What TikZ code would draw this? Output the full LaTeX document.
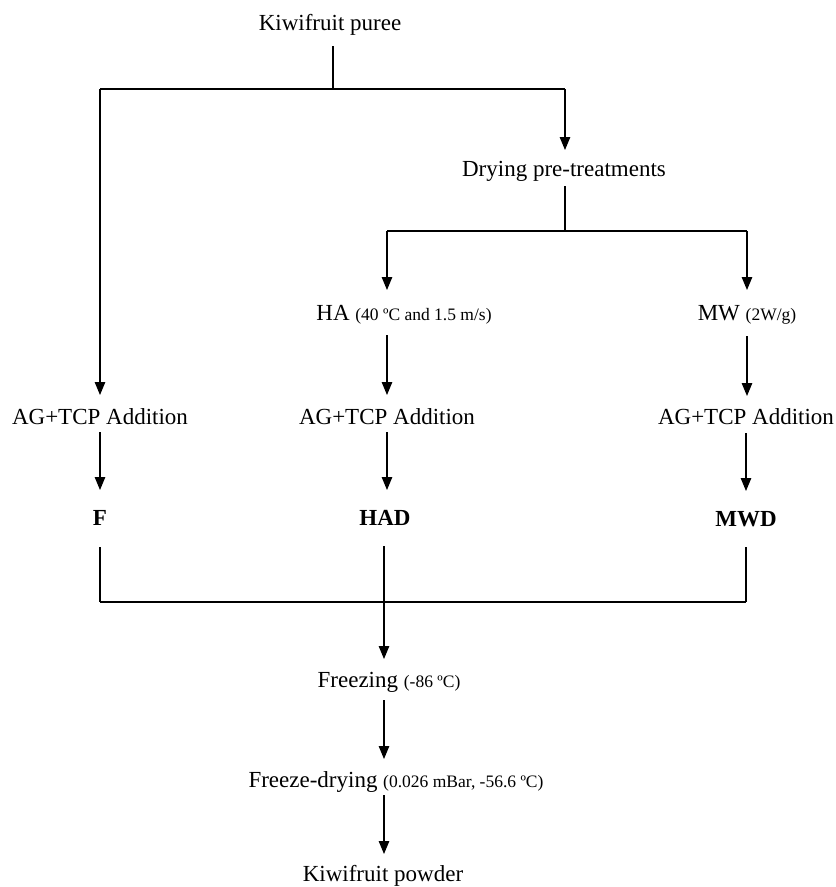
\documentclass[tikz,border=0pt]{standalone}
\usepackage{fontspec}
\setmainfont{Liberation Serif}
\usetikzlibrary{arrows.meta}
\newcommand{\smtxt}{\fontsize{17.5pt}{20pt}\selectfont}
\tikzset{
  lbl/.style={font=\fontsize{23pt}{27pt}\selectfont, inner sep=0pt, anchor=center},
  blbl/.style={lbl, font=\fontsize{23pt}{27pt}\selectfont\bfseries},
  ln/.style={line width=1.2pt, draw=black},
  arr/.style={ln, -{Triangle[length=13pt,width=10.5pt]}}
}
\begin{document}
\begin{tikzpicture}[x=1pt,y=-1pt]
\useasboundingbox (0,0) rectangle (836,887);
% nodes
\node[lbl] (puree) at (330,25) {Kiwifruit puree};
\node[lbl] (dry) at (564,171) {Drying pre-treatments};
\node[lbl] (ha) at (404,315) {HA {\smtxt(40 ºC and 1.5 m/s)}};
\node[lbl] (mw) at (747,315) {MW {\smtxt(2W/g)}};
\node[lbl] (ag1) at (100,417) {AG+TCP Addition};
\node[lbl] (ag2) at (387,417) {AG+TCP Addition};
\node[lbl] (ag3) at (746,417) {AG+TCP Addition};
\node[blbl] (f) at (100,518) {F};
\node[blbl] (had) at (385,518) {HAD};
\node[blbl] (mwd) at (746,519) {MWD};
\node[lbl] (frz) at (389,682) {Freezing {\smtxt(-86 ºC)}};
\node[lbl] (fd) at (396,782) {Freeze-drying {\smtxt(0.026 mBar, -56.6 ºC)}};
\node[lbl] (pow) at (383,876) {Kiwifruit powder};
% junction coordinates
\coordinate (j1) at (333,89);
\coordinate (j1L) at (100,89);
\coordinate (j1R) at (565,89);
\coordinate (j2) at (565,231);
\coordinate (j2L) at (387,231);
\coordinate (j2R) at (747,231);
\coordinate (j3) at (384,602);
\coordinate (j3L) at (100,602);
\coordinate (j3R) at (746,602);
% top split
\draw[ln] (j1 |- 0,46) -- (j1);
\draw[ln] (j1L) -- (j1R);
\draw[arr] (j1R) -- (j1R |- 0,150);
\draw[arr] (j1L) -- (j1L |- 0,395);
% pre-treatments split
\draw[ln] (j2 |- 0,186) -- (j2);
\draw[ln] (j2L) -- (j2R);
\draw[arr] (j2L) -- (j2L |- 0,290);
\draw[arr] (j2R) -- (j2R |- 0,290);
% HA / MW to addition
\draw[arr] (j2L |- 0,335) -- (j2L |- 0,395);
\draw[arr] (j2R |- 0,336) -- (j2R |- 0,396);
% addition to products
\draw[arr] (ag1.center |- 0,432) -- (ag1.center |- 0,490);
\draw[arr] (ag2.center |- 0,432) -- (ag2.center |- 0,490);
\draw[arr] (ag3.center |- 0,433) -- (ag3.center |- 0,491);
% merge
\draw[ln] (f.center |- 0,547) -- (j3L);
\draw[ln] (mwd.center |- 0,547) -- (j3R);
\draw[ln] (j3L) -- (j3R);
\draw[ln] (j3 |- 0,546) -- (j3);
\draw[arr] (j3) -- (j3 |- 0,659);
% lower chain
\draw[arr] (j3 |- 0,700) -- (j3 |- 0,759);
\draw[arr] (j3 |- 0,795) -- (j3 |- 0,854);
\end{tikzpicture}
\end{document}
